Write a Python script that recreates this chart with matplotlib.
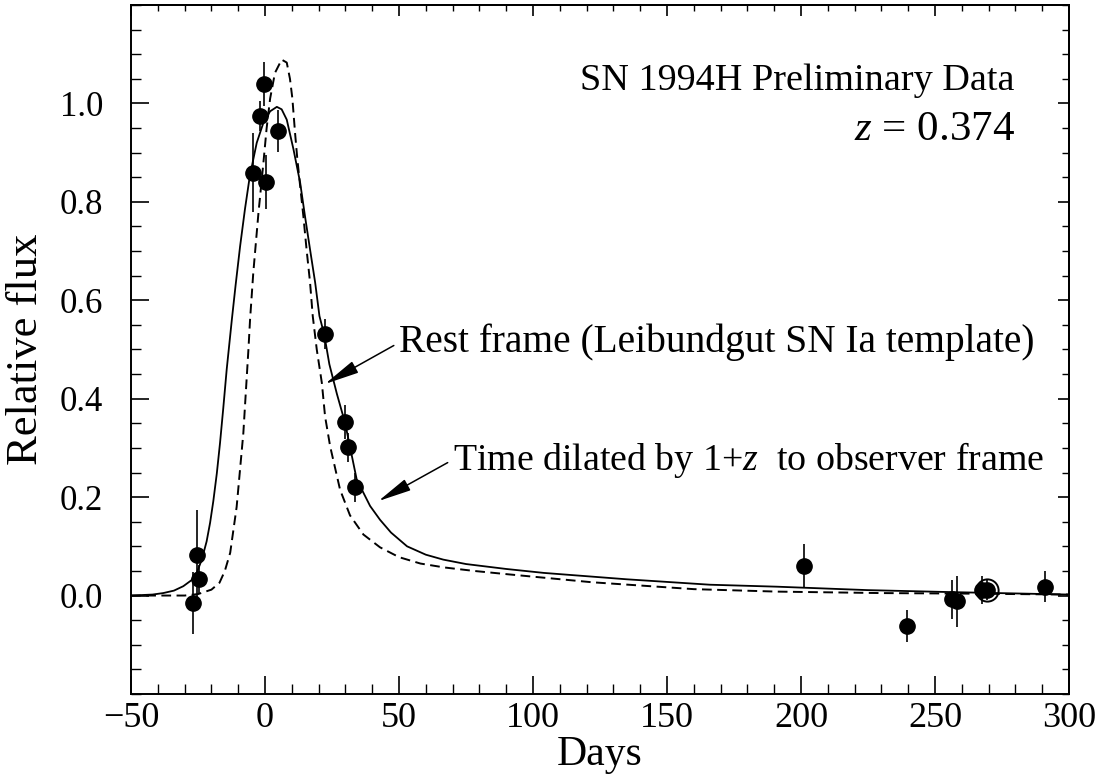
import matplotlib
matplotlib.use("Agg")
import matplotlib.pyplot as plt
from matplotlib.ticker import MultipleLocator, FixedLocator, NullFormatter

plt.rcParams['font.family'] = ['Liberation Serif', 'DejaVu Serif']
plt.rcParams['mathtext.fontset'] = 'custom'
plt.rcParams['mathtext.rm'] = 'Liberation Serif'
plt.rcParams['mathtext.it'] = 'Liberation Serif:italic'
plt.rcParams['axes.unicode_minus'] = True

# Photometry of SN 1994H (days from maximum, relative flux, 1-sigma error)
obs_days = [-25.5, -24.5, -26.7, -4.4, -1.9, -0.5, 0.5, 5.0,
            22.2, 29.9, 30.9, 33.6,
            201.1, 239.7, 256.2, 258.1, 267.4, 269.5, 291.0]
obs_flux = [0.083, 0.033, -0.016, 0.859, 0.974, 1.039, 0.840, 0.944,
            0.531, 0.353, 0.301, 0.220,
            0.060, -0.062, -0.008, -0.012, 0.011, 0.011, 0.018]
obs_err = [0.090, 0.030, 0.063, 0.080, 0.030, 0.045, 0.055, 0.043,
           0.030, 0.035, 0.030, 0.030,
           0.045, 0.033, 0.040, 0.052, 0.028, 0.020, 0.032]

# Reference epoch marked with an open ring
ring_day = 269.5
ring_flux = 0.011

# Leibundgut SN Ia template in the rest frame
rest_days = [-50, -30, -25, -20, -17, -15, -13, -10.6, -8.1, -6.2, -5.6, -4.4,
             -2.5, -0.6, 0.6, 1.9, 3.7, 6.2, 8.1, 9.3, 10.2, 11.2, 12.0, 13.1,
             14.3, 15.5, 16.8, 17.8, 19.3, 21.2, 22.4, 24.3, 28.0, 31.7, 36.7,
             42.9, 50, 58, 67, 78, 91, 122, 160, 191, 230, 260, 300]
rest_flux = [0.0, 0.0, 0.003, 0.012, 0.026, 0.05, 0.087, 0.18, 0.33, 0.50, 0.56,
             0.655, 0.775, 0.88, 0.95, 1.01, 1.062, 1.089, 1.083, 1.05, 1.01,
             0.94, 0.89, 0.832, 0.771, 0.703, 0.636, 0.568, 0.50, 0.432, 0.364,
             0.303, 0.215, 0.163, 0.124, 0.098, 0.078, 0.065, 0.057, 0.050,
             0.043, 0.027, 0.013, 0.008, 0.005, 0.004, 0.002]

# Template stretched by 1+z into the observer frame
obs_frame_days = [-50, -42, -38, -34, -30.5, -27.5, -25.5, -23.6, -21.8, -20.5,
                  -19.3, -18.0, -16.8, -15.6, -14.3, -12.4, -11.0, -9.3, -7.5,
                  -5.8, -4.4, -3.1, -0.6, 1.9, 4.4, 6.2, 8.1, 10.6, 13.1, 14.9,
                  16.8, 18.7, 20.3, 22.1, 24.0, 26.8, 29.9, 31.1, 34.2, 39.2,
                  42.9, 47, 53, 60, 66.5, 75, 90, 104, 135, 166, 191, 225, 256,
                  300]
obs_frame_flux = [0.0, 0.002, 0.005, 0.010, 0.019, 0.031, 0.046, 0.073, 0.110,
                  0.148, 0.192, 0.248, 0.31, 0.38, 0.46, 0.56, 0.63, 0.71,
                  0.785, 0.848, 0.886, 0.92, 0.961, 0.984, 0.993, 0.988, 0.967,
                  0.907, 0.839, 0.771, 0.703, 0.636, 0.568, 0.530, 0.470, 0.410,
                  0.350, 0.318, 0.236, 0.182, 0.154, 0.128, 0.100, 0.083, 0.073,
                  0.064, 0.054, 0.046, 0.033, 0.022, 0.018, 0.011, 0.007, 0.002]

x_major = [-50, 0, 50, 100, 150, 200, 250, 300]
y_major = [0.0, 0.2, 0.4, 0.6, 0.8, 1.0]
y_labels = ['0.0', '0.2', '0.4', '0.6', '0.8', '1.0']

fig = plt.figure(figsize=(11.05, 7.80), dpi=100)
ax = fig.add_axes([0.1186, 0.1103, 0.8488, 0.8833])

ax.plot(obs_frame_days, obs_frame_flux, color='black', lw=1.3, zorder=2)
ax.plot(rest_days, rest_flux, color='black', lw=1.4, dashes=(5, 2.8), zorder=2)

ax.errorbar(obs_days, obs_flux, yerr=obs_err, fmt='o', color='black',
            ms=11, elinewidth=1.2, capsize=0, zorder=3)
ax.plot([ring_day], [ring_flux], marker='o', ms=16, mfc='none', mec='black',
        mew=1.4, zorder=4)

ax.set_xlim(-50, 300)
ax.set_ylim(-0.2, 1.2)

ax.xaxis.set_major_locator(FixedLocator(x_major))
ax.xaxis.set_minor_locator(MultipleLocator(10))
ax.yaxis.set_major_locator(FixedLocator(y_major))
ax.set_yticklabels(y_labels)
ax.yaxis.set_minor_locator(MultipleLocator(0.05))

ax.tick_params(axis='both', which='major', direction='in', length=13, width=1.2,
               top=False, right=False)
ax.tick_params(axis='both', which='minor', direction='in', length=7, width=1.0,
               top=False, right=False)
ax.tick_params(axis='x', which='major', labelsize=26, pad=6)
ax.tick_params(axis='y', which='major', labelsize=25, pad=20)

# shorter inward ticks along the top and right edges
top = ax.secondary_xaxis('top')
top.xaxis.set_major_locator(FixedLocator(x_major))
top.xaxis.set_minor_locator(MultipleLocator(10))
top.xaxis.set_major_formatter(NullFormatter())
top.tick_params(which='major', direction='in', length=8, width=1.2)
top.tick_params(which='minor', direction='in', length=4, width=1.0)

right = ax.secondary_yaxis('right')
right.yaxis.set_major_locator(FixedLocator(y_major))
right.yaxis.set_minor_locator(MultipleLocator(0.05))
right.yaxis.set_major_formatter(NullFormatter())
right.tick_params(which='major', direction='in', length=8, width=1.2)
right.tick_params(which='minor', direction='in', length=5, width=1.0)

for s in ax.spines.values():
    s.set_linewidth(1.4)
top.spines['top'].set_linewidth(1.4)
right.spines['right'].set_linewidth(1.4)

ax.set_xlabel('Days', fontsize=30, labelpad=0)
ax.set_ylabel('Relative flux', fontsize=32, labelpad=10)

ax.text(0.9424, 0.877, 'SN 1994H Preliminary Data', transform=ax.transAxes,
        ha='right', va='baseline', fontsize=27.5)
ax.text(0.9424, 0.804, r'$z$ = 0.374', transform=ax.transAxes,
        ha='right', va='baseline', fontsize=31)

arrow = dict(arrowstyle='-|>,head_length=0.75,head_width=0.14', color='black',
             lw=1.1, shrinkA=2, shrinkB=0)
ax.annotate('Rest frame (Leibundgut SN Ia template)', xy=(22.4, 0.43),
            xytext=(50, 0.514), fontsize=28.4, ha='left', va='center',
            arrowprops=dict(arrow, relpos=(0, 0.5)))
ax.annotate(r'Time dilated by 1+$z$  to observer frame', xy=(42.3, 0.192),
            xytext=(70.1, 0.276), fontsize=27.3, ha='left', va='center',
            arrowprops=dict(arrow, relpos=(0, 0.5)))

fig.savefig('out.png', dpi=100, facecolor='white')
